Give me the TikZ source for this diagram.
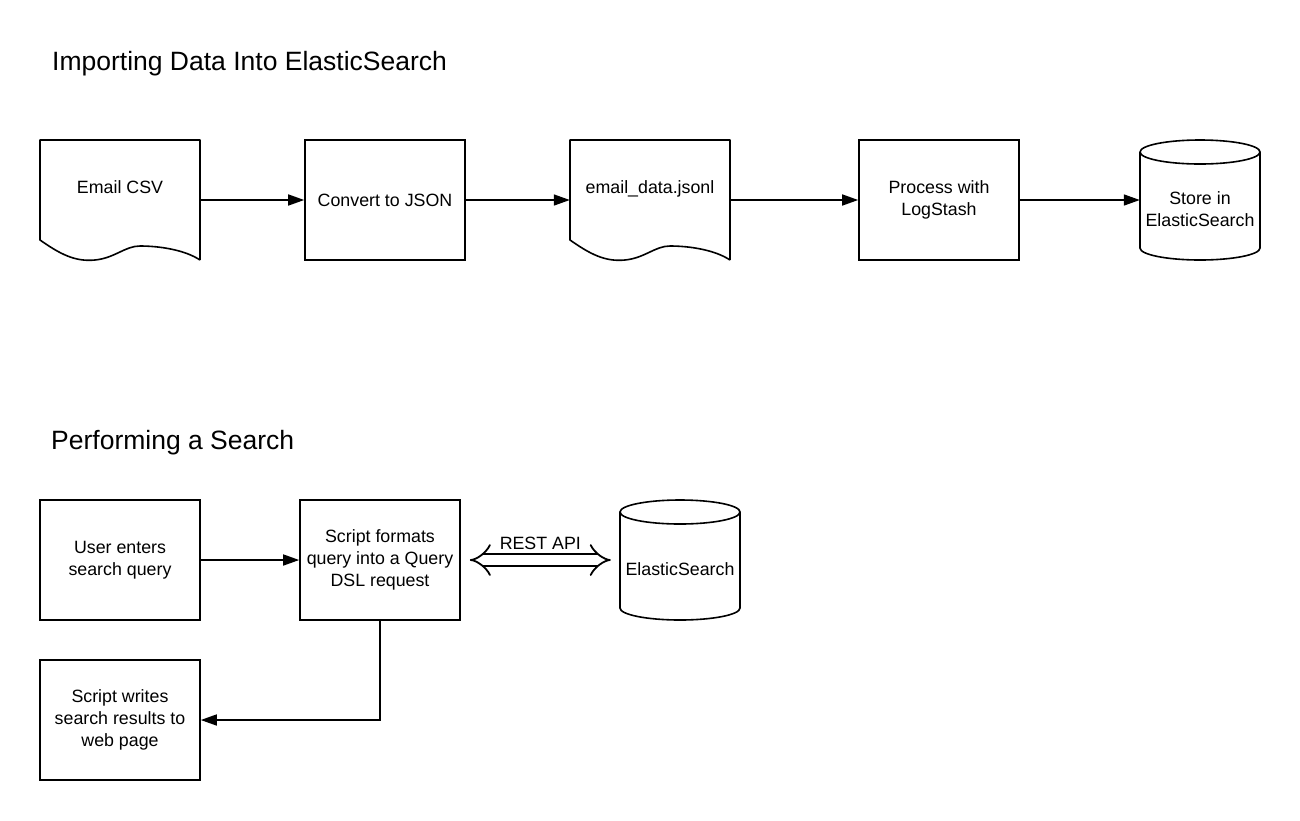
\documentclass[tikz,border=0pt]{standalone}
\usepackage{fontspec}
\setmainfont{Liberation Sans}
\usetikzlibrary{arrows.meta,calc}
\newcommand{\bodyfont}{\fontsize{17.8pt}{21.7pt}\selectfont}
\newcommand{\headfont}{\fontsize{26.5pt}{32pt}\selectfont}
\tikzset{%
  block/.style   = {draw, line width=1.6pt, rectangle, minimum height=120pt,
    minimum width=160pt, align=center, font=\bodyfont},
  docu/.style    = {minimum width=160pt, inner sep=0pt, text height=13pt,
    text depth=0pt, font=\bodyfont}, % outline by \docshape
  dbase/.style   = {minimum width=120pt, inner sep=0pt, align=center, font=\bodyfont}, % outline by \dbshape
  heading/.style = {anchor=base west, inner sep=0pt, font=\headfont},
  flow/.style    = {line width=1.6pt, -{Triangle[length=16pt,width=11pt]}},
  rest/.style    = {line width=1.8pt, double distance=9.5pt, {Implies}-{Implies}}
}
% document with wavy bottom, drawn round the text node
\newcommand{\docshape}[1]{%
  \draw[line width=1.6pt, line join=round, shift={(#1.center)}]
    (80pt,-73pt) -- (80pt,47pt) -- (-80pt,47pt) -- (-80pt,-53pt)
    .. controls (-60pt,-67pt) and (-45pt,-75pt) .. (-25pt,-73pt)
    .. controls (-5pt,-71pt) and (5pt,-59pt) .. (20pt,-59pt)
    .. controls (40pt,-59pt) and (65pt,-63pt) .. (80pt,-73pt);}
% database cylinder, drawn round the text node
\newcommand{\dbshape}[1]{%
  \draw[line width=1.6pt, shift={(#1.center)}]
    (-60pt,57pt) -- (-60pt,-39pt)
    arc[start angle=180, end angle=360, x radius=60pt, y radius=12pt]
    -- (60pt,57pt);
  \draw[line width=1.6pt, shift={(#1.center)}]
    (0pt,57pt) ellipse [x radius=60pt, y radius=12pt];}

\begin{document}
\begin{tikzpicture}[x=1pt, y=-1pt]
  \useasboundingbox (0,0) rectangle (1300,820);

  % importing
  \node[heading] (head1) at (52,70) {Importing Data Into ElasticSearch};
  \node[docu]  (csv)      at (120,187) {Email CSV};
  \node[block] (json)     at (385,200) {Convert to JSON};
  \node[docu]  (jsonl)    at (650,187) {email\_data.jsonl};
  \node[block] (logstash) at (939,200) {Process with\\LogStash};
  \node[dbase] (es1)      at (1200,209) {Store in\\ElasticSearch};
  \docshape{csv}
  \docshape{jsonl}
  \dbshape{es1}

  \draw[flow] (json.west -| csv.east) -- (json.west);
  \draw[flow] (json.east) -- (json.east -| jsonl.west);
  \draw[flow] (logstash.west -| jsonl.east) -- (logstash.west);
  \draw[flow] (logstash.east) -- (logstash.east -| es1.west);

  % searching
  \node[heading] (head2) at (51,449) {Performing a Search};
  \node[block] (user)    at (120,560) {User enters\\search query};
  \node[block] (query)   at (380,560) {Script formats\\query into a Query\\DSL request};
  \node[dbase] (es2)     at (680,569) {ElasticSearch};
  \node[block] (results) at (120,720) {Script writes\\search results to\\web page};
  \dbshape{es2}

  \draw[flow] (user) -- (query);
  \draw[rest] ([xshift=9pt]query.east) -- ([xshift=-9pt]query.east -| es2.west)
    node[midway, above=6pt, font=\bodyfont] {REST API};
  \draw[flow] (query.south) |- (results.east);
\end{tikzpicture}
\end{document}
